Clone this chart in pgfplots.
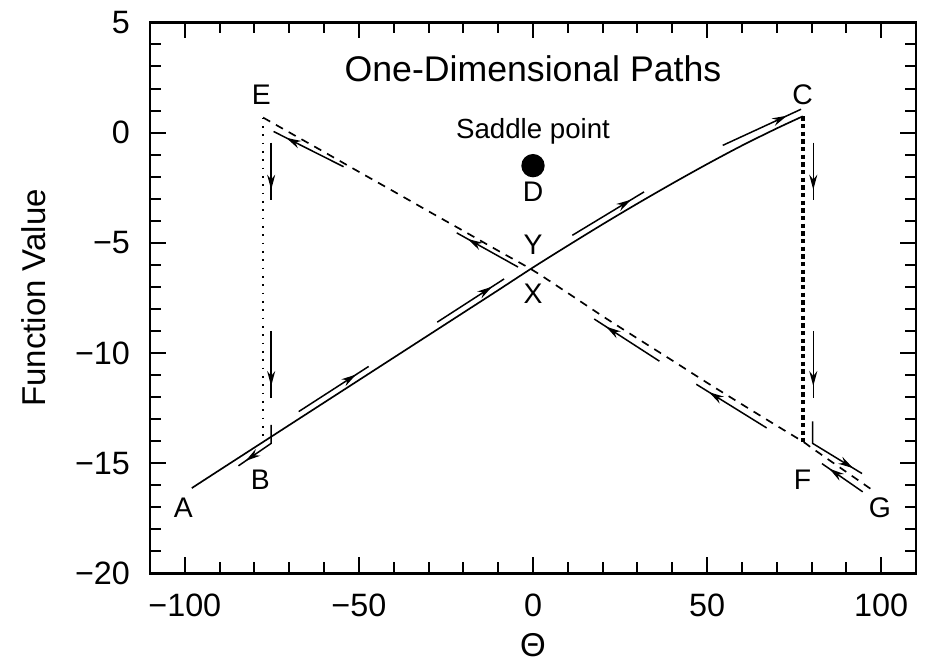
\documentclass[border=0pt]{standalone}
\usepackage{fontspec}
\setmainfont{Liberation Sans}
\usepackage{pgfplots}
\pgfplotsset{compat=1.18}
\usetikzlibrary{arrows.meta,calc,decorations.markings}

\begin{document}
\begin{tikzpicture}
\begin{axis}[
    scale only axis,
    width=229.8pt, height=165.3pt,
    xmin=-110, xmax=110, ymin=-20, ymax=5,
    xtick={-100,-50,0,50,100},
    xticklabels={−100,−50,0,50,100},
    ytick={-20,-15,-10,-5,0,5},
    yticklabels={−20,−15,−10,−5,0,5},
    minor x tick num=4, minor y tick num=4,
    tick align=inside, xtick pos=both, ytick pos=both,
    major tick length=4.8pt, minor tick length=3.3pt,
    tick style={black, line width=0.6pt},
    axis line style={line width=0.7pt},
    tick label style={font=\fontsize{9.7}{11}\selectfont},
    xticklabel style={yshift=-2.5pt},
    yticklabel style={xshift=-2.5pt},
    xlabel={Θ}, ylabel={Function Value},
    label style={font=\fontsize{9.9}{12}\selectfont},
    xlabel style={at={(axis description cs:0.5,-0.131)}, anchor=center},
    ylabel style={at={(axis description cs:-0.152,0.5)}, anchor=center},
    clip=false,
    arr/.style={black, line width=0.45pt, postaction={decorate},
      decoration={markings, mark=at position #1 with {\arrow{Stealth[length=4.5pt,width=2.4pt]}}}},
    arr/.default=0.82,
]
% solid path A -> C
\addplot[black, line width=0.5pt, smooth, tension=0.5] coordinates {
  (-98,-16.13) (-90,-15.31) (-80,-14.29) (-70,-13.27) (-60,-12.25)
  (-50,-11.23) (-40,-10.21) (-30,-9.19) (-20,-8.17) (-10,-7.15)
  (0,-6.12) (10,-5.13) (20,-4.16) (30,-3.22) (40,-2.31)
  (50,-1.43) (60,-0.59) (70,0.19) (77.5,0.74)
};
% dashed path E -> G
\addplot[black, line width=0.5pt, smooth, tension=0.5, dash pattern=on 2.4pt off 2pt] coordinates {
  (-77.5,0.68) (-70,0.01) (-60,-0.88) (-50,-1.78) (-40,-2.67)
  (-30,-3.57) (-20,-4.46) (-10,-5.36) (0,-6.25) (10,-7.28)
  (20,-8.33) (30,-9.34) (40,-10.34) (50,-11.35) (60,-12.33)
  (70,-13.30) (77.5,-14.02) (80,-14.30) (90,-15.40) (97.3,-16.20)
};
% vertical jumps
\addplot[black, line width=0.5pt, dotted] coordinates {(-77.5,0.68) (-77.5,-13.95)};
\addplot[black, line width=1.3pt, dash pattern=on 1.3pt off 1pt] coordinates {(77.5,0.74) (77.5,-14.02)};
% saddle point
\addplot[only marks, mark=*, mark size=3.3pt, black] coordinates {(0,-1.5)};

% direction arrows
\addplot[arr] coordinates {(-54.4,-1.55) (-74.5,0.05)};
\addplot[arr] coordinates {(-75.2,-0.46) (-75.2,-3.06)};
\addplot[arr] coordinates {(-75.2,-9.0) (-75.2,-12.05)};
\addplot[arr=0.85] coordinates {(-75.2,-13.26) (-75.2,-14.1) (-84.6,-15.12)};
\addplot[arr] coordinates {(-67.3,-12.66) (-47.2,-10.61)};
\addplot[arr] coordinates {(-27.5,-8.60) (-8.3,-6.64)};
\addplot[arr] coordinates {(11.3,-4.66) (31.9,-2.69)};
\addplot[arr] coordinates {(54.5,-0.58) (77,1.06)};
\addplot[arr] coordinates {(80.5,-0.46) (80.5,-3.06)};
\addplot[arr] coordinates {(80.5,-9.0) (80.5,-12.05)};
\addplot[arr=0.87] coordinates {(80.3,-13.1) (80.3,-14.1) (94.5,-15.47)};
\addplot[arr] coordinates {(94.7,-16.3) (83,-15.02)};
\addplot[arr] coordinates {(36.3,-10.37) (17.6,-8.46)};
\addplot[arr] coordinates {(67.1,-13.4) (46.9,-11.42)};
\addplot[arr] coordinates {(-4.3,-6.1) (-21.9,-4.55)};

% text
\node[font=\fontsize{10.7}{12}\selectfont] at (axis cs:0,2.9) {One-Dimensional Paths};
\node[font=\fontsize{8.3}{10}\selectfont] at (axis cs:0,0.05) {Saddle point};
\begin{scope}[every node/.style={font=\fontsize{8.5}{10}\selectfont}]
\node at (axis cs:-78,1.73) {E};
\node at (axis cs:77.4,1.73) {C};
\node at (axis cs:0,-2.69) {D};
\node at (axis cs:0,-5.11) {Y};
\node at (axis cs:0,-7.3) {X};
\node at (axis cs:-100.4,-17.0) {A};
\node at (axis cs:-78.3,-15.75) {B};
\node at (axis cs:77.4,-15.75) {F};
\node at (axis cs:99.6,-17.0) {G};
\end{scope}
\end{axis}
\path ($(current axis.south west)+(-45pt,-26.7pt)$) rectangle ($(current axis.north east)+(3.3pt,6.6pt)$);
\end{tikzpicture}
\end{document}
